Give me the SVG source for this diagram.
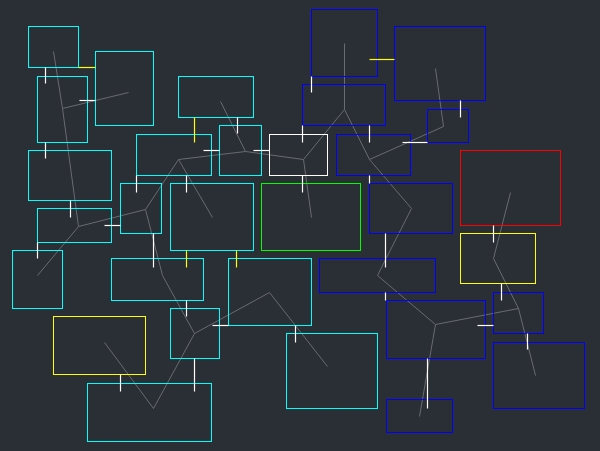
<svg xmlns="http://www.w3.org/2000/svg" width="600" height="451" viewBox="0 0 600 451">
<style>
rect.n{fill:none;stroke-width:1}
.c{stroke:#00ffff}.b{stroke:#0000ff}.w{stroke:#ffffff}.r{stroke:#ff0000}.g{stroke:#00ff00}.y{stroke:#ffff00}
#tree line{stroke:#686b70;stroke-width:1}
#ticks line{stroke-width:1.2}
#ticks .tw{stroke:#ffffff}
#ticks .ty{stroke:#ffff00}
</style>
<rect x="0" y="0" width="600" height="451" fill="#2a2e35"/>
<g transform="translate(0.5,0.5)">
<g id="tree">
<line x1="53" y1="51" x2="62" y2="108"/>
<line x1="62" y1="108" x2="128" y2="92"/>
<line x1="62" y1="108" x2="78" y2="226"/>
<line x1="78" y1="226" x2="145" y2="209"/>
<line x1="78" y1="226" x2="37" y2="275"/>
<line x1="145" y1="209" x2="178" y2="159"/>
<line x1="145" y1="209" x2="162" y2="275"/>
<line x1="162" y1="275" x2="194" y2="333"/>
<line x1="178" y1="159" x2="245" y2="151"/>
<line x1="245" y1="151" x2="220" y2="101"/>
<line x1="178" y1="159" x2="212" y2="217"/>
<line x1="245" y1="151" x2="303" y2="159"/>
<line x1="303" y1="159" x2="311" y2="217"/>
<line x1="303" y1="159" x2="344" y2="109"/>
<line x1="344" y1="109" x2="344" y2="43"/>
<line x1="344" y1="109" x2="369" y2="159"/>
<line x1="369" y1="159" x2="443" y2="126"/>
<line x1="443" y1="126" x2="435" y2="68"/>
<line x1="369" y1="159" x2="411" y2="208"/>
<line x1="411" y1="208" x2="377" y2="275"/>
<line x1="377" y1="275" x2="435" y2="324"/>
<line x1="435" y1="324" x2="518" y2="308"/>
<line x1="493" y1="258" x2="518" y2="308"/>
<line x1="518" y1="308" x2="535" y2="375"/>
<line x1="493" y1="258" x2="510" y2="192"/>
<line x1="435" y1="324" x2="419" y2="416"/>
<line x1="194" y1="333" x2="153" y2="408"/>
<line x1="153" y1="408" x2="104" y2="342"/>
<line x1="194" y1="333" x2="269" y2="292"/>
<line x1="269" y1="292" x2="327" y2="366"/>
</g>
<g id="n1"><rect class="n c" x="28" y="26" width="50" height="41"/></g>
<g id="n2"><rect class="n c" x="95" y="51" width="58" height="74"/></g>
<g id="n3"><rect class="n c" x="37" y="76" width="50" height="66"/></g>
<g id="n4"><rect class="n c" x="178" y="76" width="75" height="41"/></g>
<g id="n5"><rect class="n c" x="28" y="150" width="83" height="50"/></g>
<g id="n6"><rect class="n c" x="136" y="134" width="75" height="41"/></g>
<g id="n7"><rect class="n c" x="219" y="125" width="42" height="50"/></g>
<g id="n8"><rect class="n w" x="269" y="134" width="58" height="41"/></g>
<g id="n9"><rect class="n b" x="311" y="9" width="66" height="67"/></g>
<g id="n10"><rect class="n b" x="394" y="26" width="91" height="74"/></g>
<g id="n11"><rect class="n b" x="302" y="84" width="83" height="41"/></g>
<g id="n12"><rect class="n b" x="427" y="109" width="41" height="33"/></g>
<g id="n13"><rect class="n b" x="336" y="134" width="74" height="41"/></g>
<g id="n14"><rect class="n r" x="460" y="150" width="100" height="75"/></g>
<g id="n15"><rect class="n c" x="37" y="208" width="74" height="34"/></g>
<g id="n16"><rect class="n c" x="120" y="183" width="41" height="50"/></g>
<g id="n17"><rect class="n c" x="170" y="183" width="83" height="67"/></g>
<g id="n18"><rect class="n g" x="261" y="183" width="99" height="67"/></g>
<g id="n19"><rect class="n b" x="369" y="183" width="83" height="50"/></g>
<g id="n20"><rect class="n y" x="460" y="233" width="75" height="50"/></g>
<g id="n21"><rect class="n c" x="12" y="250" width="50" height="58"/></g>
<g id="n22"><rect class="n c" x="111" y="258" width="92" height="42"/></g>
<g id="n23"><rect class="n c" x="228" y="258" width="83" height="67"/></g>
<g id="n24"><rect class="n b" x="319" y="258" width="116" height="34"/></g>
<g id="n25"><rect class="n b" x="493" y="292" width="50" height="41"/></g>
<g id="n26"><rect class="n b" x="386" y="300" width="99" height="58"/></g>
<g id="n27"><rect class="n y" x="53" y="316" width="92" height="58"/></g>
<g id="n28"><rect class="n c" x="170" y="308" width="49" height="50"/></g>
<g id="n29"><rect class="n c" x="286" y="333" width="91" height="75"/></g>
<g id="n30"><rect class="n b" x="493" y="342" width="91" height="66"/></g>
<g id="n31"><rect class="n c" x="87" y="383" width="124" height="58"/></g>
<g id="n32"><rect class="n b" x="386" y="399" width="66" height="33"/></g>
<g id="ticks">
<line class="tw" x1="45" y1="67" x2="45" y2="83"/>
<line class="tw" x1="79" y1="100" x2="95" y2="100"/>
<line class="tw" x1="45" y1="142" x2="45" y2="158"/>
<line class="tw" x1="70" y1="200" x2="70" y2="217"/>
<line class="tw" x1="104" y1="225" x2="120" y2="225"/>
<line class="tw" x1="37" y1="242" x2="37" y2="258"/>
<line class="tw" x1="136" y1="175" x2="136" y2="192"/>
<line class="tw" x1="186" y1="175" x2="186" y2="192"/>
<line class="tw" x1="153" y1="233" x2="153" y2="267"/>
<line class="tw" x1="186" y1="300" x2="186" y2="316"/>
<line class="tw" x1="120" y1="374" x2="120" y2="391"/>
<line class="tw" x1="194" y1="358" x2="194" y2="391"/>
<line class="tw" x1="212" y1="325" x2="228" y2="325"/>
<line class="tw" x1="295" y1="325" x2="295" y2="342"/>
<line class="tw" x1="203" y1="150" x2="219" y2="150"/>
<line class="tw" x1="253" y1="150" x2="269" y2="150"/>
<line class="tw" x1="237" y1="117" x2="237" y2="133"/>
<line class="tw" x1="311" y1="76" x2="311" y2="92"/>
<line class="tw" x1="302" y1="125" x2="302" y2="142"/>
<line class="tw" x1="369" y1="125" x2="369" y2="142"/>
<line class="tw" x1="460" y1="100" x2="460" y2="117"/>
<line class="tw" x1="402" y1="142" x2="427" y2="142"/>
<line class="tw" x1="302" y1="175" x2="302" y2="192"/>
<line class="tw" x1="369" y1="175" x2="369" y2="183"/>
<line class="tw" x1="385" y1="233" x2="385" y2="267"/>
<line class="tw" x1="385" y1="292" x2="385" y2="300"/>
<line class="tw" x1="493" y1="225" x2="493" y2="242"/>
<line class="tw" x1="501" y1="283" x2="501" y2="300"/>
<line class="tw" x1="477" y1="325" x2="493" y2="325"/>
<line class="tw" x1="527" y1="333" x2="527" y2="349"/>
<line class="tw" x1="427" y1="358" x2="427" y2="408"/>
<line class="ty" x1="78" y1="67" x2="95" y2="67"/>
<line class="ty" x1="194" y1="117" x2="194" y2="142"/>
<line class="ty" x1="186" y1="250" x2="186" y2="267"/>
<line class="ty" x1="236" y1="250" x2="236" y2="267"/>
<line class="ty" x1="369" y1="59" x2="394" y2="59"/>
</g>
</g>
</svg>
